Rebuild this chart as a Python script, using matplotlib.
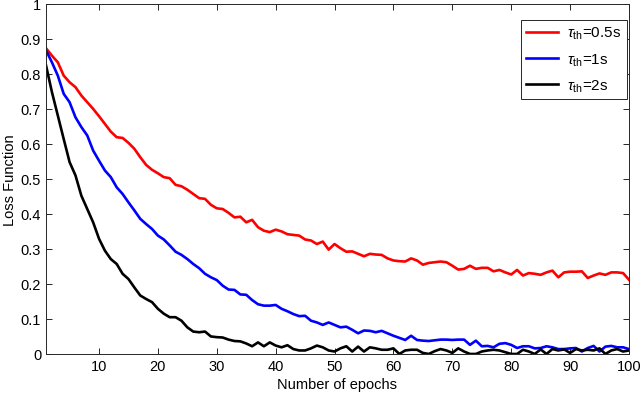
import numpy as np
import matplotlib
matplotlib.use('Agg')
import matplotlib.pyplot as plt

plt.rcParams['font.family'] = ['Liberation Sans', 'DejaVu Sans']
plt.rcParams['mathtext.fontset'] = 'custom'
plt.rcParams['mathtext.rm'] = 'Liberation Sans'
plt.rcParams['mathtext.it'] = 'Liberation Sans:italic'

epochs = np.arange(1, 101)

loss_05s = [0.873, 0.852, 0.833, 0.795, 0.776, 0.762, 0.738, 0.719, 0.700, 0.679,
            0.657, 0.635, 0.619, 0.617, 0.603, 0.586, 0.562, 0.540, 0.526, 0.516,
            0.505, 0.502, 0.483, 0.479, 0.469, 0.457, 0.445, 0.443, 0.426, 0.416,
            0.414, 0.403, 0.390, 0.392, 0.376, 0.383, 0.362, 0.352, 0.348, 0.355,
            0.350, 0.342, 0.340, 0.338, 0.327, 0.324, 0.314, 0.321, 0.298, 0.314,
            0.302, 0.292, 0.293, 0.286, 0.279, 0.286, 0.284, 0.283, 0.273, 0.267,
            0.265, 0.264, 0.273, 0.267, 0.255, 0.260, 0.262, 0.264, 0.262, 0.252,
            0.241, 0.243, 0.252, 0.243, 0.246, 0.246, 0.236, 0.240, 0.233, 0.227,
            0.240, 0.224, 0.231, 0.229, 0.226, 0.233, 0.238, 0.219, 0.233, 0.235,
            0.235, 0.236, 0.217, 0.224, 0.230, 0.226, 0.233, 0.233, 0.231, 0.212]

loss_1s = [0.867, 0.833, 0.795, 0.743, 0.719, 0.676, 0.648, 0.624, 0.581, 0.552,
           0.524, 0.505, 0.476, 0.457, 0.433, 0.410, 0.386, 0.371, 0.357, 0.338,
           0.327, 0.310, 0.292, 0.283, 0.271, 0.257, 0.245, 0.229, 0.219, 0.211,
           0.195, 0.184, 0.183, 0.170, 0.169, 0.154, 0.142, 0.138, 0.138, 0.140,
           0.129, 0.122, 0.114, 0.108, 0.109, 0.095, 0.090, 0.083, 0.090, 0.083,
           0.076, 0.078, 0.069, 0.059, 0.067, 0.066, 0.062, 0.066, 0.059, 0.052,
           0.046, 0.040, 0.052, 0.040, 0.038, 0.037, 0.039, 0.041, 0.041, 0.040,
           0.041, 0.041, 0.026, 0.038, 0.022, 0.023, 0.019, 0.029, 0.031, 0.026,
           0.017, 0.022, 0.022, 0.016, 0.017, 0.022, 0.019, 0.014, 0.014, 0.016,
           0.017, 0.007, 0.017, 0.023, 0.007, 0.021, 0.023, 0.019, 0.019, 0.014]

loss_2s = [0.824, 0.748, 0.681, 0.614, 0.548, 0.510, 0.452, 0.414, 0.376, 0.329,
           0.295, 0.271, 0.257, 0.229, 0.214, 0.190, 0.167, 0.157, 0.148, 0.129,
           0.115, 0.105, 0.105, 0.095, 0.076, 0.064, 0.062, 0.064, 0.050, 0.048,
           0.047, 0.041, 0.037, 0.036, 0.030, 0.022, 0.033, 0.022, 0.033, 0.024,
           0.019, 0.025, 0.014, 0.010, 0.010, 0.016, 0.024, 0.019, 0.010, 0.007,
           0.016, 0.022, 0.007, 0.021, 0.007, 0.019, 0.016, 0.012, 0.012, 0.016,
           0.000, 0.010, 0.012, 0.012, 0.003, 0.000, 0.008, 0.014, 0.010, 0.003,
           0.016, 0.007, 0.000, 0.000, 0.007, 0.010, 0.012, 0.010, 0.005, 0.000,
           0.000, 0.012, 0.007, 0.000, 0.013, 0.000, 0.014, 0.010, 0.013, 0.003,
           0.014, 0.010, 0.012, 0.010, 0.016, 0.000, 0.010, 0.014, 0.007, 0.010]

labels = [r'$\tau_{\rm th}$=0.5s', r'$\tau_{\rm th}$=1s', r'$\tau_{\rm th}$=2s']
colors = ['#ff0000', '#0000ff', '#000000']

fig = plt.figure(figsize=(6.42, 4.02), dpi=100)
ax = fig.add_axes([0.0717, 0.117, 0.908, 0.871])

for y, lab, c in zip([loss_05s, loss_1s, loss_2s], labels, colors):
    ax.plot(epochs, y, color=c, linewidth=1.9, label=lab)

ax.set_xlim(1, 100)
ax.set_ylim(0, 1)
ax.set_xticks(np.arange(10, 101, 10))
ax.set_yticks(np.arange(0, 1.01, 0.1))
ax.set_yticklabels(['0', '0.1', '0.2', '0.3', '0.4', '0.5', '0.6', '0.7', '0.8', '0.9', '1'])
ax.tick_params(direction='in', top=True, right=True, length=4, width=0.7,
               labelsize=10.5, colors='#262626', labelcolor='black')
for s in ax.spines.values():
    s.set_color('#262626')
    s.set_linewidth(0.7)

ax.set_xlabel('Number of epochs', fontsize=10.5, labelpad=3)
ax.set_ylabel('Loss Function', fontsize=10.5, labelpad=3)

leg = ax.legend(loc='upper right', fontsize=11, fancybox=False, framealpha=1,
                edgecolor='#262626', handlelength=2.1, handletextpad=0.6,
                borderpad=0.35, labelspacing=0.65, borderaxespad=0,
                bbox_to_anchor=(0.996, 0.955))
leg.get_frame().set_linewidth(0.7)

fig.savefig('out.png', dpi=100)
